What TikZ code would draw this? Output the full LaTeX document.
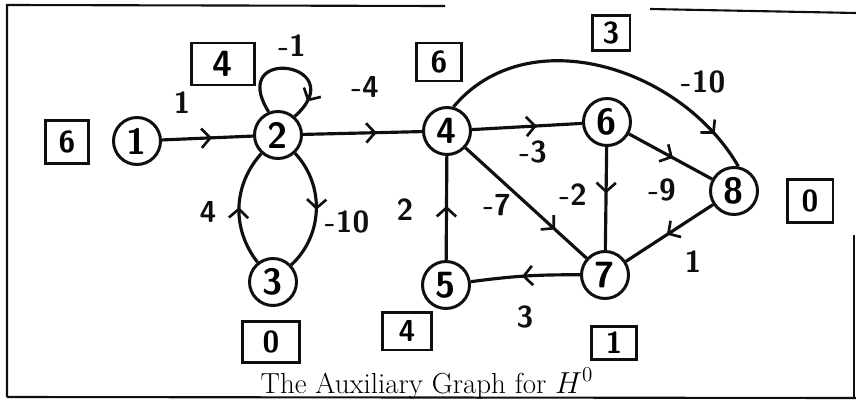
\documentclass[tikz,border=0pt]{standalone}
\usepackage{tikz}
\usetikzlibrary{arrows.meta, positioning, decorations.markings}
\definecolor{inkdark}{RGB}{15,15,15}
\tikzset{
  vertex/.style={circle, draw=inkdark, line width=1.7pt, minimum size=0.94cm,
    inner sep=0pt, font=\sffamily\bfseries\huge},
  potbox/.style 2 args={rectangle, draw=inkdark, line width=1.7pt,
    minimum width=#1, minimum height=#2, inner sep=0pt, font=\sffamily\bfseries\LARGE},
  wlabel/.style={font=\sffamily\bfseries\LARGE, color=inkdark},
  wedge/.style={line width=1.8pt, color=inkdark},
  midarrow/.style={postaction={decorate}, decoration={markings,
    mark=at position #1 with {\arrow{Straight Barb[length=5pt,width=11pt,line width=1.5pt]}}}},
  frameline/.style={line width=1.2pt, color=inkdark}
}

\begin{document}
\begin{tikzpicture}[x=0.02cm, y=-0.02cm]
  \useasboundingbox (0,0) rectangle (856,406);

  % Frame of the scanned page
  \draw[frameline] (7,397) -- (7,5) -- (445,6);
  \draw[frameline] (650,9) -- (856,13);
  \draw[frameline] (7,397) -- (856,398);
  \draw[frameline] (854,235) -- (854,398);

  % Vertices
  \node[vertex] (v1) at (137,141) {1};
  \node[vertex] (v2) at (278,135) {2};
  \node[vertex] (v3) at (273,282) {3};
  \node[vertex] (v4) at (447,131) {4};
  \node[vertex] (v5) at (446,285) {5};
  \node[vertex] (v6) at (607,122) {6};
  \node[vertex] (v7) at (605,275) {7};
  \node[vertex] (v8) at (734,191) {8};

  % Potentials
  \node[potbox={0.86cm}{0.86cm}] (p1) at (67,142) {6};
  \node[potbox={1.26cm}{0.84cm}, font=\sffamily\bfseries\huge] (p2) at (223,64) {4};
  \node[potbox={1.14cm}{0.82cm}] (p3) at (271,342) {0};
  \node[potbox={0.90cm}{0.76cm}] (p4) at (439,62) {6};
  \node[potbox={0.98cm}{0.76cm}] (p5) at (407,331) {4};
  \node[potbox={0.76cm}{0.70cm}] (p6) at (611,33) {3};
  \node[potbox={0.90cm}{0.66cm}] (p7) at (614,343) {1};
  \node[potbox={0.92cm}{0.86cm}] (p8) at (810,201) {0};

  % Arcs
  \draw[wedge, midarrow=0.55] (v1) -- (v2);
  \draw[wedge, midarrow=0.85] (v2.112) .. controls +(122:1.6cm) and +(42:1.6cm) .. (v2.48);
  \draw[wedge, midarrow=0.62] (v2) -- (v4);
  \draw[wedge, midarrow=0.5] (v2) to[bend left=45] (v3);
  \draw[wedge, midarrow=0.5] (v3) to[bend left=40] (v2);
  \draw[wedge, midarrow=0.59] (v4) -- (v6);
  \draw[wedge, midarrow=0.74] (v4) -- (v7);
  \draw[wedge, midarrow=0.88] (v4.75) .. controls +(50:2.3cm) and +(120:2.3cm) .. (v8.80);
  \draw[wedge, midarrow=0.52] (v5) -- (v4);
  \draw[wedge, midarrow=0.45] (v6) -- (v7);
  \draw[wedge, midarrow=0.53] (v6) -- (v8);
  \draw[wedge, midarrow=0.53] (v8) -- (v7);
  \draw[wedge, midarrow=0.53] (v7) to[bend right=4] (v5);

  % Weights
  \node[wlabel] (w12) at (182,103) {1};
  \node[wlabel] (w22) at (292,46) {-1};
  \node[wlabel] (w24) at (365,87) {-4};
  \node[wlabel] (w32) at (208,212) {4};
  \node[wlabel] (w23) at (347,222) {-10};
  \node[wlabel] (w54) at (405,210) {2};
  \node[wlabel] (w47) at (497,205) {-7};
  \node[wlabel] (w46) at (533,152) {-3};
  \node[wlabel] (w67) at (573,195) {-2};
  \node[wlabel] (w68) at (662,190) {-9};
  \node[wlabel] (w48) at (703,82) {-10};
  \node[wlabel] (w87) at (693,262) {1};
  \node[wlabel] (w75) at (525,317) {3};

  % Caption
  \node[anchor=base, font=\fontsize{16.5}{18}\selectfont] (cap) at (427,393)
    {The Auxiliary Graph for $H^0$};
\end{tikzpicture}
\end{document}
